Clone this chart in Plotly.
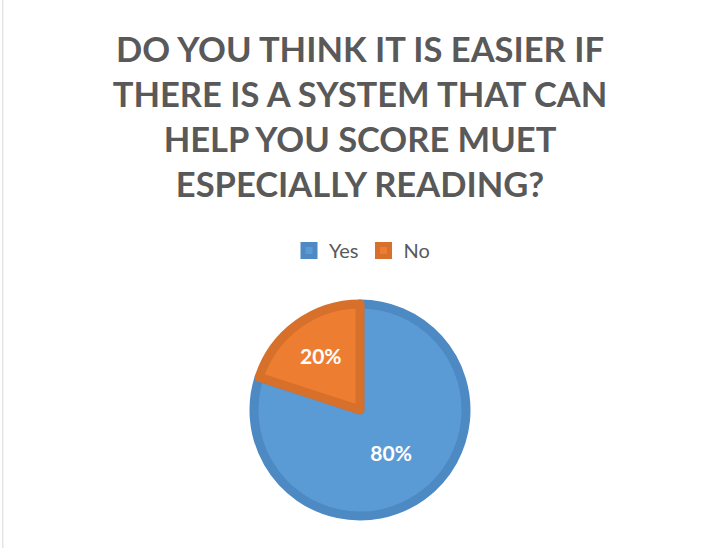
import plotly.graph_objects as go

labels = ["Yes", "No"]
values = [80, 20]
fill_colors = ["#5B9BD5", "#ED7D31"]
border_colors = ["#4D89C3", "#D6702B"]
title_text = "DO YOU THINK IT IS EASIER IF<br>THERE IS A SYSTEM THAT CAN<br>HELP YOU SCORE MUET<br>ESPECIALLY READING?"

W, H = 707, 548
cx, cy, r = 360, 410, 106

fig = go.Figure(go.Pie(
    labels=labels,
    values=values,
    sort=False,
    direction="clockwise",
    rotation=0,
    marker=dict(colors=fill_colors, line=dict(color=border_colors, width=9)),
    textinfo="percent",
    textposition="inside",
    insidetextorientation="horizontal",
    textfont=dict(family="Lato", size=21, color="white", weight="bold"),
    domain=dict(x=[(cx - r) / W, (cx + r) / W], y=[(H - cy - r) / H, (H - cy + r) / H]),
    showlegend=True,
    hoverinfo="label+percent",
))

fig.update_layout(
    width=W, height=H,
    margin=dict(l=0, r=0, t=0, b=0),
    paper_bgcolor="white",
    title=dict(
        text=title_text,
        x=360 / W, xanchor="center",
        y=1 - 62 / H, yanchor="top",
        font=dict(family="Lato", size=34.5, color="#595959", weight="bold"),
    ),
    legend=dict(
        orientation="h",
        x=362 / W, xanchor="center",
        y=1 - 231 / H, yanchor="top",
        font=dict(family="Lato", size=20, color="#595959"),
        itemwidth=30,
        traceorder="normal",
    ),
    shapes=[dict(type="line", xref="paper", yref="paper", x0=0.004, x1=0.004, y0=0, y1=1,
                 line=dict(color="#D9D9D9", width=1))],
)

fig.write_html("out.html")
